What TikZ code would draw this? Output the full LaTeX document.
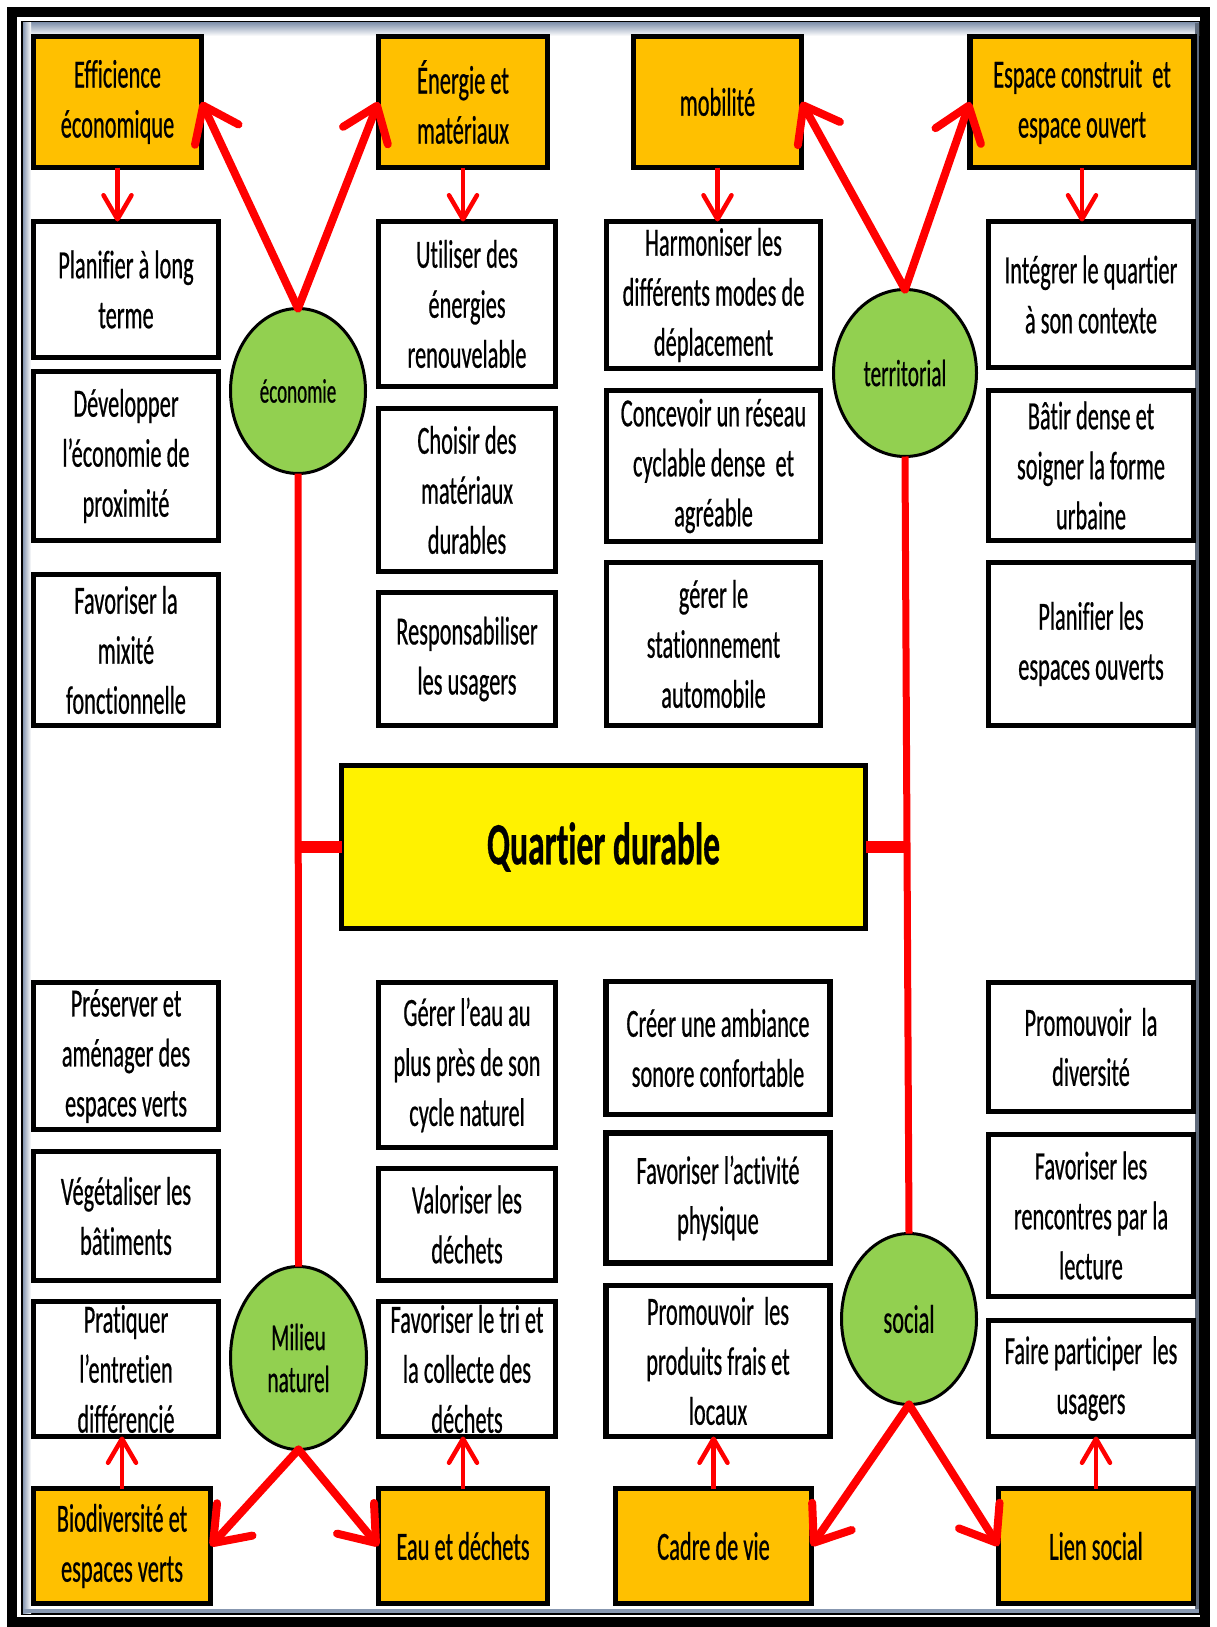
\documentclass[tikz,border=0pt]{standalone}
\usepackage{fontspec}
\setmainfont{Carlito}[FakeStretch=0.56, FakeBold=0.5, Ligatures=NoCommon]
\usetikzlibrary{arrows.meta,shapes.geometric,calc}

\definecolor{boxorange}{HTML}{FFC000}
\definecolor{leafgreen}{HTML}{92D050}
\definecolor{framegray}{HTML}{8797B0}

\begin{document}
\begin{tikzpicture}[x=1pt,y=-1pt,
  every node/.style={inner sep=0pt, outer sep=0pt, align=center},
  sz/.style 2 args={minimum width=#1-5, minimum height=#2-5},
  txt/.style={font=\fontsize{40}{50}\selectfont},
  wbox/.style={rectangle, draw=black, line width=5.5pt, fill=white, txt},
  obox/.style={wbox, fill=boxorange},
  circ/.style={ellipse, draw=black, line width=3pt, fill=leafgreen},
  trunk/.style={draw=red, line width=7pt},
  branch/.style={draw=red, line width=12pt},
  bigarrow/.style={draw=red, line width=8pt, line cap=round,
    -{Straight Barb[length=32pt,width=48pt,round]}},
  smallarrow/.style={draw=red, line width=4.5pt,
    -{Straight Barb[length=24pt,width=28pt,round]}}
]
% page and frame
\fill[white] (0,0) rectangle (1217,1627);
\useasboundingbox (0,0) rectangle (1217,1627);
\draw[line width=10pt] (12,12) rectangle (1205,1622);
\draw[line width=2pt] (22,22) rectangle (1200,1614);
\shade[top color=framegray, bottom color=white] (23,23) rectangle (1199,36);
\shade[left color=framegray, right color=white] (23,23) rectangle (31,1613);
\fill[framegray!70!black] (1195,23) rectangle (1199,1613);
\fill[framegray] (23,1609) rectangle (1199,1613);

% top theme boxes
\node[obox, sz={173}{136}] (eff) at (117.5,102) {Efficience\\économique};
\node[obox, sz={174}{136}] (ener) at (463,102) {Énergie et\\matériaux};
\node[obox, sz={173}{136}] (mob) at (717.5,102) {mobilité};
\node[obox, sz={229}{136}] (esp) at (1082,102) {Espace construit\ \ et\\espace ouvert};

% top action boxes
\node[wbox, sz={190}{141}] (plan) at (126,289.5) {Planifier à long\\terme};
\node[wbox, sz={190}{174}] (dev) at (126,456) {Développer\\l’économie de\\proximité};
\node[wbox, sz={190}{156}] (mix) at (126,650) {Favoriser la\\mixité\\fonctionnelle};
\node[wbox, sz={182}{170}] (util) at (467,304) {Utiliser des\\énergies\\renouvelable};
\node[wbox, sz={182}{168}] (chois) at (467,490) {Choisir des\\matériaux\\durables};
\node[wbox, sz={182}{138}] (resp) at (467,659) {Responsabiliser\\les usagers};
\node[wbox, sz={219}{152}] (harm) at (713.5,295) {Harmoniser les\\différents modes de\\déplacement};
\node[wbox, sz={219}{156}] (conc) at (713.5,466) {Concevoir un réseau\\cyclable dense\ \ et\\agréable};
\node[wbox, sz={219}{168}] (stat) at (713.5,644) {gérer le\\stationnement\\automobile};
\node[wbox, sz={210}{151}] (integ) at (1091,294.5) {Intégrer le quartier\\à son contexte};
\node[wbox, sz={210}{155}] (batir) at (1091,465.5) {Bâtir dense et\\soigner la forme\\urbaine};
\node[wbox, sz={210}{168}] (pesp) at (1091,644) {Planifier les\\espaces ouverts};

% centre
\node[rectangle, draw=black, line width=5.5pt, fill=yellow, sz={529}{168},
  font=\fontsize{60}{72}\selectfont\bfseries] (quart) at (603.5,847) {Quartier durable};

% bottom action boxes
\node[wbox, sz={190}{152}] (pres) at (126,1056) {Préserver et\\aménager des\\espaces verts};
\node[wbox, sz={190}{134}] (veg) at (126,1216) {Végétaliser les\\bâtiments};
\node[wbox, sz={190}{140}] (prat) at (126,1369) {Pratiquer\\l’entretien\\différencié};
\node[wbox, sz={182}{170}] (gerer) at (467,1065) {Gérer l’eau au\\plus près de son\\cycle naturel};
\node[wbox, sz={182}{117}] (valor) at (467,1224.5) {Valoriser les\\déchets};
\node[wbox, sz={182}{140}] (tri) at (467,1369) {Favoriser le tri et\\la collecte des\\déchets};
\node[wbox, sz={229}{138}] (creer) at (718,1048) {Créer une ambiance\\sonore confortable};
\node[wbox, sz={229}{135}] (activ) at (718,1198) {Favoriser l’activité\\physique};
\node[wbox, sz={229}{156}] (prod) at (718,1361) {Promouvoir\ \ les\\produits frais et\\locaux};
\node[wbox, sz={210}{134}] (divers) at (1091,1047) {Promouvoir\ \ la\\diversité};
\node[wbox, sz={210}{167}] (renc) at (1091,1215.5) {Favoriser les\\rencontres par la\\lecture};
\node[wbox, sz={210}{121}] (part) at (1091,1378.5) {Faire participer\ \ les\\usagers};

% bottom theme boxes
\node[obox, sz={182}{120}] (bio) at (122,1546) {Biodiversité et\\espaces verts};
\node[obox, sz={174}{120}] (eau) at (463,1546) {Eau et déchets};
\node[obox, sz={201}{120}] (cadre) at (713.5,1546) {Cadre de vie};
\node[obox, sz={200}{120}] (lien) at (1096,1546) {Lien social};

% pillars
\node[circ, minimum width=135, minimum height=165, font=\fontsize{34}{40}\selectfont] (eco) at (298,391) {économie};
\node[circ, minimum width=143, minimum height=167, font=\fontsize{38}{44}\selectfont] (terr) at (905,373) {territorial};
\node[circ, minimum width=136, minimum height=183, font=\fontsize{38}{42}\selectfont] (mil) at (298.5,1358) {Milieu\\naturel};
\node[circ, minimum width=135, minimum height=171, font=\fontsize{40}{48}\selectfont] (soc) at (909,1319) {social};

% trunks and branches to the centre
\draw[trunk] (eco.south) -- (mil.north);
\draw[trunk] (terr.south) -- (soc.north);
\draw[branch] (quart.west) -- (quart.west -| eco.south);
\draw[branch] (quart.east) -- (quart.east -| terr.south);

% pillars to themes
\draw[bigarrow] (eco.north) -- (eff.east);
\draw[bigarrow] (eco.north) -- (ener.west);
\draw[bigarrow] (terr.north) -- (mob.east);
\draw[bigarrow] (terr.north) -- (esp.west);
\draw[bigarrow] (mil.south) -- (bio.east);
\draw[bigarrow] (mil.south) -- (eau.west);
\draw[bigarrow] (soc.south) -- (cadre.east);
\draw[bigarrow] (soc.south) -- (lien.west);

% themes to actions
\draw[smallarrow] (eff.south) -- (plan.north -| eff.south);
\draw[smallarrow] (ener.south) -- (util.north -| ener.south);
\draw[smallarrow] (mob.south) -- (harm.north -| mob.south);
\draw[smallarrow] (esp.south) -- (integ.north -| esp.south);
\draw[smallarrow] (bio.north) -- (prat.south -| bio.north);
\draw[smallarrow] (eau.north) -- (tri.south -| eau.north);
\draw[smallarrow] (cadre.north) -- (prod.south -| cadre.north);
\draw[smallarrow] (lien.north) -- (part.south -| lien.north);
\end{tikzpicture}
\end{document}
